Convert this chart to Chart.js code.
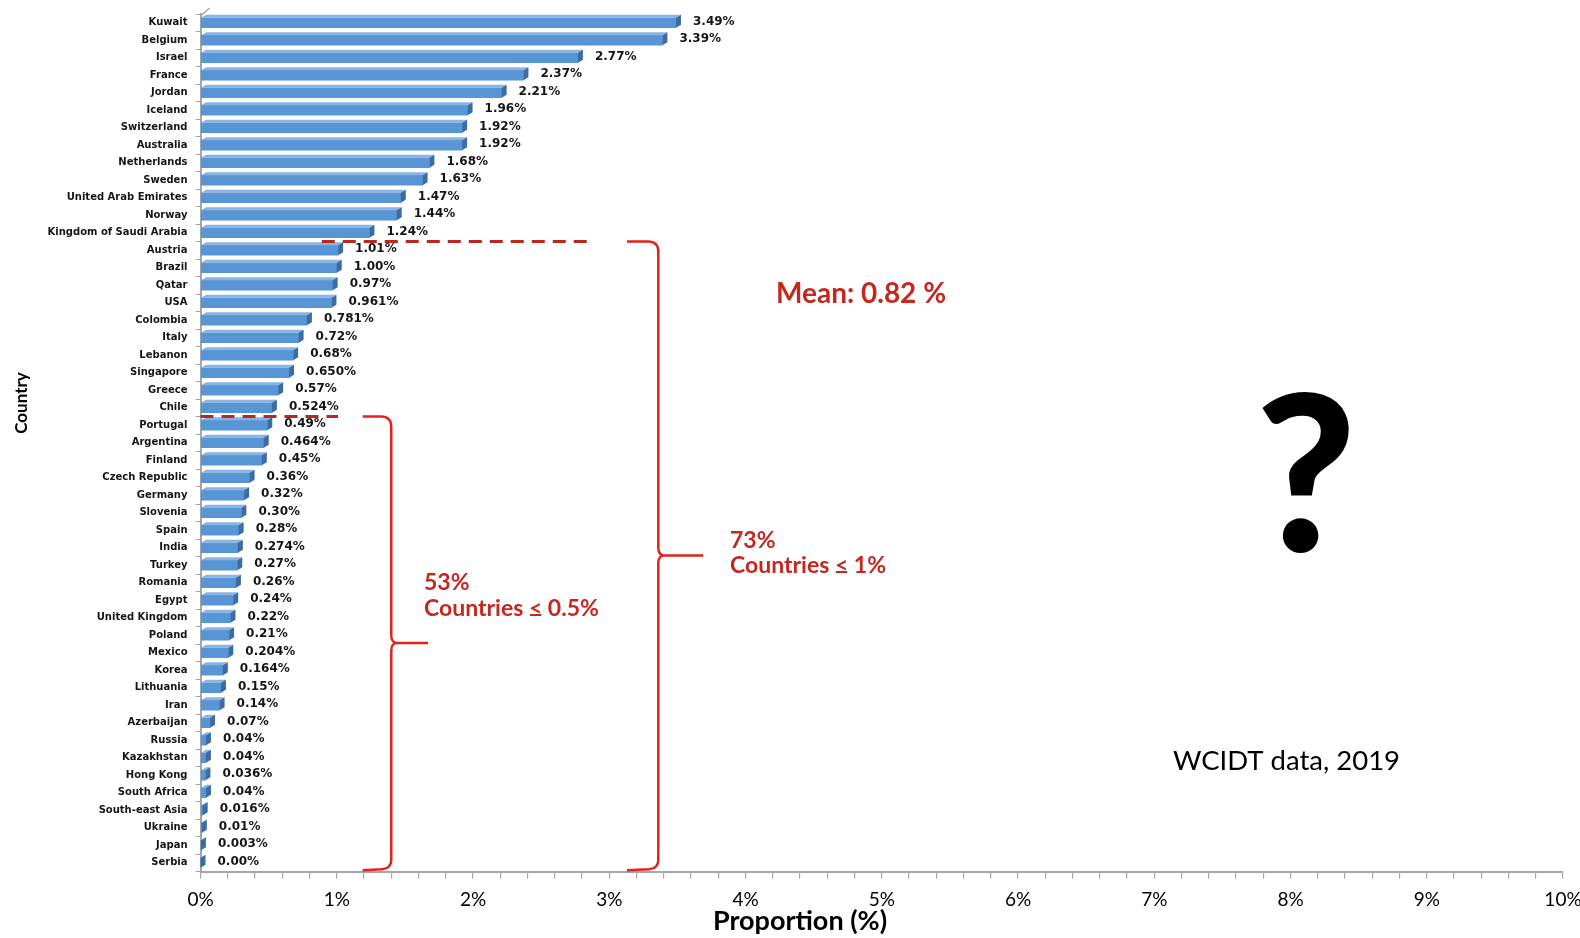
<!DOCTYPE html>
<html>
<head>
<meta charset="utf-8">
<script src="https://cdn.jsdelivr.net/npm/chart.js@4.4.1/dist/chart.umd.min.js"></script>
<style>
  html, body { margin: 0; padding: 0; background: #ffffff; }
  canvas { display: block; }
</style>
</head>
<body>
<canvas id="chart" width="1580" height="938"></canvas>
<script>
// Share of each country (%), WCIDT data 2019
const countries = [
  'Kuwait', 'Belgium', 'Israel', 'France', 'Jordan', 'Iceland', 'Switzerland',
  'Australia', 'Netherlands', 'Sweden', 'United Arab Emirates', 'Norway',
  'Kingdom of Saudi Arabia', 'Austria', 'Brazil', 'Qatar', 'USA', 'Colombia',
  'Italy', 'Lebanon', 'Singapore', 'Greece', 'Chile', 'Portugal', 'Argentina',
  'Finland', 'Czech Republic', 'Germany', 'Slovenia', 'Spain', 'India', 'Turkey',
  'Romania', 'Egypt', 'United Kingdom', 'Poland', 'Mexico', 'Korea', 'Lithuania',
  'Iran', 'Azerbaijan', 'Russia', 'Kazakhstan', 'Hong Kong', 'South Africa',
  'South-east Asia', 'Ukraine', 'Japan', 'Serbia'
];

const proportions = [
  3.49, 3.39, 2.77, 2.37, 2.21, 1.96, 1.92, 1.92, 1.68, 1.63, 1.47, 1.44, 1.24,
  1.01, 1.00, 0.97, 0.961, 0.781, 0.72, 0.68, 0.650, 0.57, 0.524,
  0.49, 0.464, 0.45, 0.36, 0.32, 0.30, 0.28, 0.274, 0.27, 0.26, 0.24, 0.22,
  0.21, 0.204, 0.164, 0.15, 0.14, 0.07, 0.04, 0.04, 0.036, 0.04, 0.016, 0.01,
  0.003, 0.00
];

const valueLabels = [
  '3.49%', '3.39%', '2.77%', '2.37%', '2.21%', '1.96%', '1.92%', '1.92%', '1.68%',
  '1.63%', '1.47%', '1.44%', '1.24%', '1.01%', '1.00%', '0.97%', '0.961%',
  '0.781%', '0.72%', '0.68%', '0.650%', '0.57%', '0.524%', '0.49%', '0.464%',
  '0.45%', '0.36%', '0.32%', '0.30%', '0.28%', '0.274%', '0.27%', '0.26%',
  '0.24%', '0.22%', '0.21%', '0.204%', '0.164%', '0.15%', '0.14%', '0.07%',
  '0.04%', '0.04%', '0.036%', '0.04%', '0.016%', '0.01%', '0.003%', '0.00%'
];

const xTickLabels = ['0%', '1%', '2%', '3%', '4%', '5%', '6%', '7%', '8%', '9%', '10%'];

const AXIS_GREY = '#a6a6a6';
const DARK_RED = '#b8281f';
const BRACE_RED = '#e2231a';
const TEXT_RED = '#c4281e';

// Side and top faces of each bar plus its value label
const bar3d = {
  id: 'bar3d',
  afterDatasetsDraw(chart) {
    const ctx = chart.ctx;
    const meta = chart.getDatasetMeta(0);
    const dx = 5, dy = 3;
    ctx.save();
    meta.data.forEach((el, i) => {
      const p = el.getProps(['x', 'y', 'base', 'height'], true);
      const top = p.y - p.height / 2;
      const bottom = p.y + p.height / 2;
      // top face
      ctx.fillStyle = '#8ab4e2';
      ctx.beginPath();
      ctx.moveTo(p.base, top);
      ctx.lineTo(p.x, top);
      ctx.lineTo(p.x + dx, top - dy);
      ctx.lineTo(p.base + dx, top - dy);
      ctx.closePath();
      ctx.fill();
      // right face
      ctx.fillStyle = '#3c6ca4';
      ctx.beginPath();
      ctx.moveTo(p.x, top);
      ctx.lineTo(p.x + dx, top - dy);
      ctx.lineTo(p.x + dx, bottom - dy);
      ctx.lineTo(p.x, bottom);
      ctx.closePath();
      ctx.fill();
      // value label
      ctx.fillStyle = '#151515';
      ctx.font = 'bold 12px "DejaVu Sans"';
      ctx.textAlign = 'left';
      ctx.textBaseline = 'middle';
      ctx.fillText(valueLabels[i], p.x + 17, p.y - 1);
    });
    ctx.restore();
  }
};

function brace(ctx, xLeft, xMid, xTip, yTop, yBot) {
  const yMid = (yTop + yBot) / 2;
  const r = 9;
  ctx.beginPath();
  ctx.moveTo(xLeft, yTop);
  ctx.lineTo(xMid - r, yTop);
  ctx.quadraticCurveTo(xMid, yTop + 1, xMid, yTop + r);
  ctx.lineTo(xMid, yMid - 8);
  ctx.quadraticCurveTo(xMid, yMid - 1, xMid + 5, yMid);
  ctx.quadraticCurveTo(xMid, yMid + 1, xMid, yMid + 8);
  ctx.lineTo(xMid, yBot - r);
  ctx.quadraticCurveTo(xMid, yBot - 1, xMid - r, yBot);
  ctx.lineTo(xLeft, yBot + 1);
  ctx.moveTo(xMid + 5, yMid);
  ctx.lineTo(xTip, yMid);
  ctx.stroke();
}

function underlinedLine(ctx, x, y, parts) {
  // parts: [text before, symbol to underline, text after]
  ctx.fillText(parts[0], x, y);
  const w0 = ctx.measureText(parts[0]).width;
  ctx.fillText(parts[1], x + w0, y);
  const w1 = ctx.measureText(parts[1]).width;
  ctx.fillRect(x + w0 + 1, y + 5, w1 - 2, 2);
  ctx.fillText(parts[2], x + w0 + w1, y);
}

// Axis titles, group markers and side notes
const overlay = {
  id: 'overlay',
  afterDraw(chart) {
    const ctx = chart.ctx;
    const xs = chart.scales.x, ys = chart.scales.y;
    const area = chart.chartArea;
    const boundary = (a, b) => (ys.getPixelForValue(a) + ys.getPixelForValue(b)) / 2;
    ctx.save();

    // slanted top of the value wall
    ctx.strokeStyle = AXIS_GREY;
    ctx.lineWidth = 1.5;
    ctx.beginPath();
    ctx.moveTo(xs.getPixelForValue(0), area.top + 2);
    ctx.lineTo(xs.getPixelForValue(0) + 9, area.top - 6);
    ctx.stroke();

    // axis titles
    ctx.fillStyle = '#000';
    ctx.textAlign = 'center';
    ctx.textBaseline = 'middle';
    ctx.font = 'bold 27px Lato';
    ctx.fillText('Proportion (%)', 800, 921);
    ctx.save();
    ctx.translate(22, 403);
    ctx.rotate(-Math.PI / 2);
    ctx.font = 'bold 17px Lato';
    ctx.fillText('Country', 0, 0);
    ctx.restore();

    // dashed cut lines
    ctx.strokeStyle = DARK_RED;
    ctx.lineWidth = 3;
    ctx.setLineDash([13, 8]);
    const yCut1 = boundary(12, 13);
    const yCut2 = boundary(22, 23);
    ctx.beginPath();
    ctx.moveTo(xs.getPixelForValue(0.89), yCut1);
    ctx.lineTo(xs.getPixelForValue(2.84), yCut1);
    ctx.moveTo(xs.getPixelForValue(0), yCut2);
    ctx.lineTo(xs.getPixelForValue(1.01), yCut2);
    ctx.stroke();
    ctx.setLineDash([]);

    // braces
    const yEnd = ys.getPixelForValue(countries.length - 1) + 6.5;
    ctx.strokeStyle = BRACE_RED;
    ctx.lineWidth = 2.5;
    brace(ctx, xs.getPixelForValue(3.13), xs.getPixelForValue(3.36), xs.getPixelForValue(3.69), yCut1, yEnd);
    brace(ctx, xs.getPixelForValue(1.19), xs.getPixelForValue(1.40), xs.getPixelForValue(1.67), yCut2, yEnd);

    // notes
    ctx.fillStyle = TEXT_RED;
    ctx.textAlign = 'left';
    ctx.textBaseline = 'middle';
    ctx.font = 'bold 28px Lato';
    ctx.fillText('Mean: 0.82 %', 776, 294);
    ctx.font = 'bold 23px Lato';
    ctx.fillText('73%', 730, 541);
    underlinedLine(ctx, 730, 566, ['Countries ', '<', ' 1%']);
    ctx.fillText('53%', 424, 583);
    underlinedLine(ctx, 424, 609, ['Countries ', '<', ' 0.5%']);

    ctx.fillStyle = '#000';
    ctx.textAlign = 'center';
    ctx.textBaseline = 'alphabetic';
    ctx.font = '900 218px Lato';
    ctx.fillText('?', 1306, 551);
    ctx.textAlign = 'left';
    ctx.font = '27.5px Lato';
    ctx.fillText('WCIDT data, 2019', 1173, 770);
    ctx.restore();
  }
};

new Chart(document.getElementById('chart'), {
  type: 'bar',
  data: {
    labels: countries,
    datasets: [{
      data: proportions,
      backgroundColor: '#5895d4',
      borderWidth: 0,
      barThickness: 10
    }]
  },
  options: {
    indexAxis: 'y',
    responsive: false,
    devicePixelRatio: 1,
    animation: false,
    layout: { padding: { left: 0, right: 17, top: 9, bottom: 0 } },
    plugins: {
      legend: { display: false },
      tooltip: { enabled: false },
      title: { display: false }
    },
    scales: {
      x: {
        type: 'linear',
        min: 0,
        max: 10,
        afterFit(s) { s.height = 66.5; s.paddingLeft = 0; s.paddingRight = 0; },
        border: { display: true, color: AXIS_GREY, width: 2 },
        grid: { drawOnChartArea: false, drawTicks: true, tickLength: 7, color: AXIS_GREY, lineWidth: 1.2 },
        ticks: {
          stepSize: 0.2,
          autoSkip: false,
          maxRotation: 0,
          padding: 10,
          color: '#000',
          font: { family: 'Lato', size: 19 },
          callback(v) {
            const r = Math.round(v);
            return Math.abs(v - r) < 1e-6 ? xTickLabels[r] : '';
          }
        }
      },
      y: {
        type: 'category',
        afterFit(s) { s.width = 200.5; },
        border: { display: true, color: AXIS_GREY, width: 2 },
        grid: { offset: true, drawOnChartArea: false, drawTicks: true, tickLength: 5, color: AXIS_GREY },
        ticks: {
          autoSkip: false,
          padding: 8,
          color: '#151515',
          font: { family: 'DejaVu Sans', size: 10, weight: 'bold' }
        }
      }
    }
  },
  plugins: [bar3d, overlay]
});
</script>
</body>
</html>
